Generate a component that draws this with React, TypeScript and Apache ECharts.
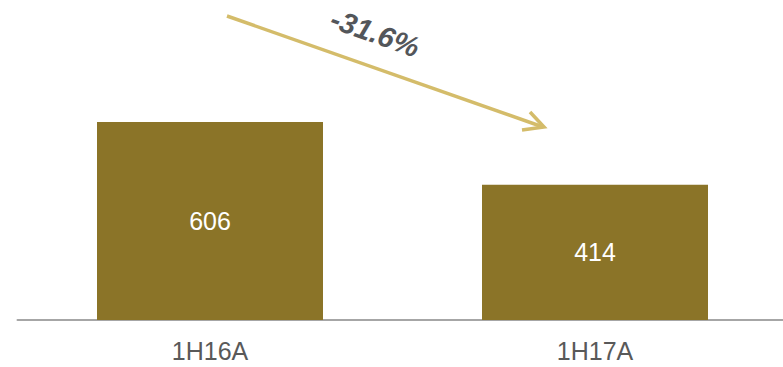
import React, { useEffect, useRef } from "react";
import * as echarts from "echarts";

const categories = ["1H16A", "1H17A"];
const values = [606, 414];
const changeLabel = "-31.6%";

export default function App() {
  const ref = useRef<HTMLDivElement>(null);
  useEffect(() => {
    if (!ref.current) return;
    const chart = echarts.init(ref.current, null, { renderer: "svg" });
    const font = "'Liberation Sans', Arial, sans-serif";
    chart.setOption({
      animation: false,
      grid: { left: 17.5, right: 2.5, top: 20, bottom: 47 },
      xAxis: {
        type: "category",
        data: categories,
        axisLine: { show: true, lineStyle: { color: "#A6A6A6", width: 2 } },
        axisTick: { show: false },
        axisLabel: { color: "#595959", fontSize: 25, fontFamily: font, margin: 18 },
      },
      yAxis: {
        type: "value",
        min: 0,
        max: 918,
        show: false,
        splitLine: { show: false },
      },
      series: [
        {
          type: "bar",
          data: values,
          barWidth: 226,
          itemStyle: { color: "#8B7428" },
          label: {
            show: true,
            position: "inside",
            color: "#FFFFFF",
            fontSize: 25,
            fontFamily: font,
          },
        },
      ],
      graphic: [
        {
          type: "line",
          shape: { x1: 227, y1: 16, x2: 543, y2: 127 },
          style: { stroke: "#D4BC6A", lineWidth: 3.5 },
        },
        {
          type: "polyline",
          shape: { points: [[530, 112], [544, 127], [522, 130]] },
          style: { stroke: "#D4BC6A", lineWidth: 3.5, fill: null },
        },
        {
          type: "text",
          x: 375,
          y: 33,
          rotation: -0.34,
          style: {
            text: changeLabel,
            fill: "#53565A",
            font: `italic bold 29px ${font}`,
            align: "center",
            verticalAlign: "middle",
          },
        },
      ],
    });
    return () => chart.dispose();
  }, []);
  return (
    <div style={{ width: 783, height: 367, position: "absolute", left: 0, top: 0, overflow: "hidden" }}>
      <div ref={ref} style={{ width: 790, height: 367 }} />
    </div>
  );
}
